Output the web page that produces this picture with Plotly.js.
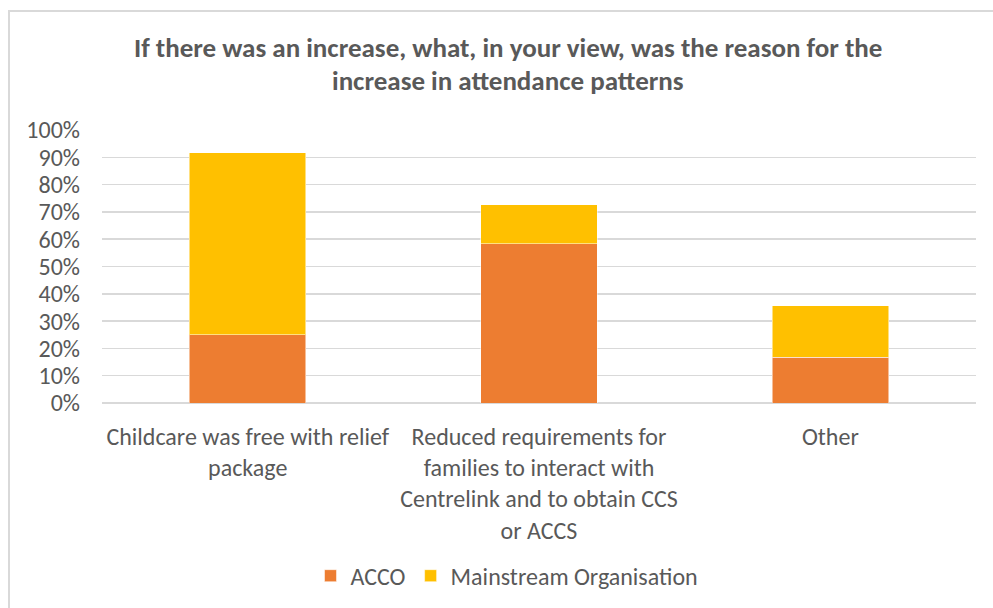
<!DOCTYPE html>
<html>
<head>
<meta charset="utf-8">
<script src="https://cdn.plot.ly/plotly-3.0.1.min.js"></script>
<style>
  html, body { margin: 0; padding: 0; background: #ffffff; }
  #wrap { position: relative; width: 993px; height: 608px; overflow: hidden; }
  #chart { position: absolute; left: 0; top: 0; width: 993px; height: 608px; }
  #frame { position: absolute; left: 8px; top: 10px; width: 1100px; height: 700px;
           border: 2px solid #d9d9d9; pointer-events: none; box-sizing: border-box; }
</style>
</head>
<body>
<div id="wrap">
  <div id="chart"></div>
  <div id="frame"></div>
</div>
<script>
const categories = [
  "Childcare was free with relief<br>package",
  "Reduced requirements for<br>families to interact with<br>Centrelink and to obtain CCS<br>or ACCS",
  "Other"
];
const accoValues = [25.0, 58.3, 16.7];
const mainstreamValues = [66.7, 14.3, 19.0];
const seriesNames = ["ACCO", "Mainstream Organisation"];
const yTickStep = 10;
const titleLines = [
  "If there was an increase, what, in your view, was the reason for the",
  "increase in attendance patterns"
];

const FONT = "Carlito, Calibri, Lato, 'Open Sans', sans-serif";
const TXT = "#595959";
const FS = 24;

const traces = [
  { type: "bar", name: seriesNames[0], x: categories, y: accoValues,
    marker: { color: "#ED7D31", line: { color: "rgba(255,255,255,0.5)", width: 1 } },
    hoverinfo: "skip" },
  { type: "bar", name: seriesNames[1], x: categories, y: mainstreamValues,
    marker: { color: "#FFC000", line: { color: "rgba(255,255,255,0.5)", width: 1 } },
    hoverinfo: "skip" }
];

const layout = {
  width: 993, height: 608,
  paper_bgcolor: "rgba(255,255,255,0)",
  plot_bgcolor: "#ffffff",
  barmode: "stack",
  bargap: 0.6,
  margin: { l: 102, r: 17, t: 130, b: 205, pad: 0, autoexpand: false },
  font: { family: FONT, color: TXT, size: FS },
  showlegend: true,
  legend: {
    orientation: "h", xref: "paper", yref: "paper",
    x: 0.4634, xanchor: "center", y: -0.634, yanchor: "middle",
    font: { family: FONT, size: FS, color: TXT },
    bgcolor: "rgba(0,0,0,0)", traceorder: "normal"
  },
  xaxis: {
    type: "category", automargin: false,
    showgrid: false, zeroline: false, showline: false,
    ticks: "", ticklabelstandoff: 17,
    tickfont: { family: FONT, size: FS, color: TXT },
    fixedrange: true
  },
  yaxis: {
    range: [0, 100], automargin: false,
    tickmode: "linear", tick0: 0, dtick: yTickStep,
    ticksuffix: "%", showticksuffix: "all",
    showgrid: true, gridcolor: "#d9d9d9", gridwidth: 1.5,
    zeroline: true, zerolinecolor: "#d9d9d9", zerolinewidth: 1.5,
    showline: false, ticks: "",
    ticklabelstandoff: 21,
    tickfont: { family: FONT, size: FS, color: TXT },
    fixedrange: true
  },
  annotations: [
    { text: "<b>" + titleLines[0] + "</b>", xref: "paper", yref: "paper",
      x: (508 - 102) / 874, y: (403 - 48) / 273, xanchor: "center", yanchor: "middle",
      showarrow: false, font: { family: FONT, size: 27, color: TXT } },
    { text: "<b>" + titleLines[1] + "</b>", xref: "paper", yref: "paper",
      x: (508 - 102) / 874, y: (403 - 80) / 273, xanchor: "center", yanchor: "middle",
      showarrow: false, font: { family: FONT, size: 27, color: TXT } }
  ]
};

Plotly.newPlot("chart", traces, layout, { displayModeBar: false, staticPlot: true });
</script>
</body>
</html>
